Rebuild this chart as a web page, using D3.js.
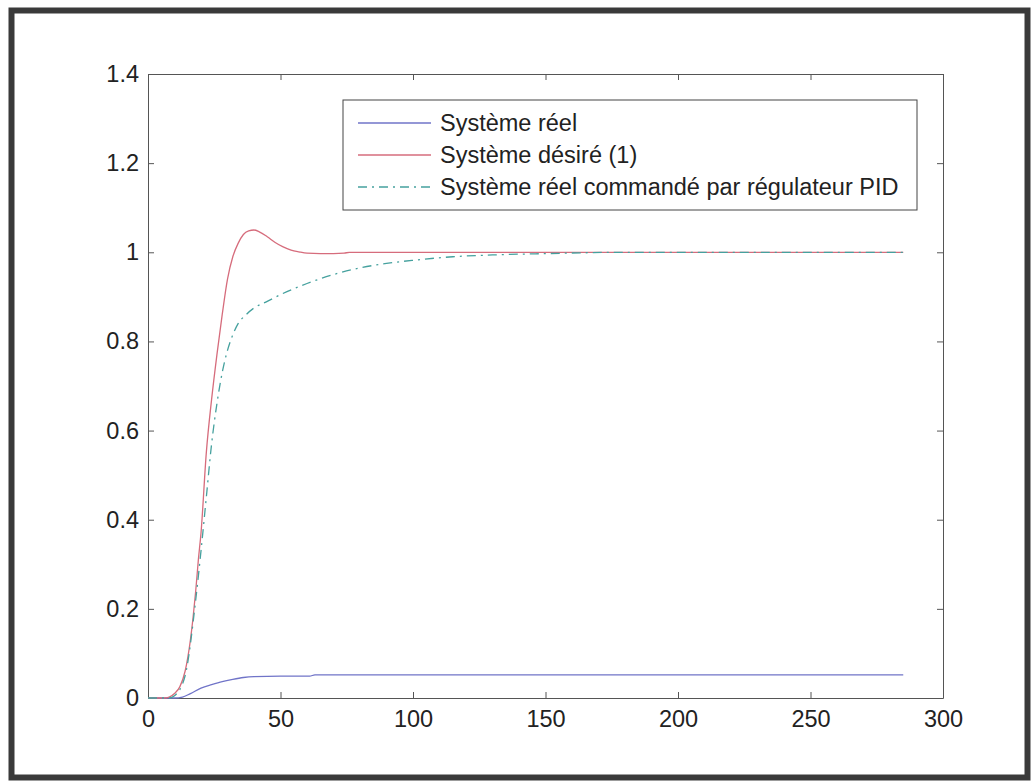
<!DOCTYPE html>
<html>
<head>
<meta charset="utf-8">
<script src="https://cdn.jsdelivr.net/npm/d3@7"></script>
<style>
  html, body { margin: 0; padding: 0; background: #fff; }
  svg { display: block; font-family: "Liberation Sans", Arial, sans-serif; }
  .axis path, .axis line { stroke: #555; }
  .axis text { fill: #222; font-size: 23.5px; }
</style>
</head>
<body>
<svg id="chart" width="1035" height="784"></svg>
<script>
// Step responses (time, output).
const reelT = [0, 10, 13, 16, 20, 24, 28, 32, 36, 40, 50, 61, 63, 285];
const reelY = [0, 0, 0.002, 0.01, 0.022, 0.03, 0.037, 0.042, 0.046, 0.048, 0.049, 0.049, 0.052, 0.052];

const desireT = [0, 6, 8, 10, 12, 14, 16, 17, 18, 19, 20, 22, 24, 26, 28, 30, 32, 34, 36, 38, 40, 42, 45, 48, 51, 54, 57, 60, 65, 70, 74, 76, 100, 285];
const desireY = [0, 0, 0.002, 0.01, 0.025, 0.06, 0.13, 0.18, 0.24, 0.31, 0.37, 0.55, 0.67, 0.77, 0.86, 0.94, 0.99, 1.02, 1.04, 1.048, 1.05, 1.046, 1.035, 1.022, 1.012, 1.005, 1.001, 0.998, 0.997, 0.997, 0.998, 1.0, 1.0, 1.0];

const pidT = [0, 8, 10, 14, 18, 20, 22, 24, 26, 28, 30, 32, 34, 37, 40, 45, 50, 60, 70, 80, 90, 100, 115, 130, 150, 180, 285];
const pidY = [0, 0, 0.005, 0.05, 0.22, 0.33, 0.45, 0.57, 0.66, 0.73, 0.78, 0.815, 0.84, 0.86, 0.875, 0.89, 0.905, 0.93, 0.95, 0.965, 0.975, 0.982, 0.99, 0.994, 0.997, 1.0, 1.0];

const xTicks = [0, 50, 100, 150, 200, 250, 300];
const yTicks = [0, 0.2, 0.4, 0.6, 0.8, 1, 1.2, 1.4];

const series = [
  { name: 'Système réel', t: reelT, y: reelY, color: '#7074c8', dash: null },
  { name: 'Système désiré (1)', t: desireT, y: desireY, color: '#d66c7c', dash: null },
  { name: 'Système réel commandé par régulateur PID', t: pidT, y: pidY, color: '#45a19e', dash: '9,5,2,5' }
];

const svg = d3.select('#chart');
const W = 1035, H = 784;

// Scanned page frame
svg.append('rect').attr('x', 11.5).attr('y', 10.5).attr('width', W - 19).attr('height', H - 17)
  .attr('fill', '#fff').attr('stroke', '#3a3a3a').attr('stroke-width', 6);

const plotL = 148, plotR = 943, plotT = 74, plotB = 698;
const x = d3.scaleLinear().domain([0, 300]).range([plotL, plotR]);
const y = d3.scaleLinear().domain([0, 1.4]).range([plotB, plotT]);

// Box axes with inward ticks, labels only on bottom and left
svg.append('g').attr('class', 'axis').attr('transform', `translate(0,${plotB})`)
  .call(d3.axisBottom(x).tickValues(xTicks).tickSizeInner(-6).tickSizeOuter(0).tickPadding(12).tickFormat(d3.format('d')));
svg.append('g').attr('class', 'axis').attr('transform', `translate(0,${plotT})`)
  .call(d3.axisTop(x).tickValues(xTicks).tickSizeInner(-6).tickSizeOuter(0).tickFormat(''));
svg.append('g').attr('class', 'axis').attr('transform', `translate(${plotL},0)`)
  .call(d3.axisLeft(y).tickValues(yTicks).tickSizeInner(-6).tickSizeOuter(0).tickPadding(9).tickFormat(d => d3.format('~g')(d)));
svg.append('g').attr('class', 'axis').attr('transform', `translate(${plotR},0)`)
  .call(d3.axisRight(y).tickValues(yTicks).tickSizeInner(-6).tickSizeOuter(0).tickFormat(''));

// Curves
const line = d3.line().x(d => x(d[0])).y(d => y(d[1])).curve(d3.curveMonotoneX);
series.forEach(s => {
  svg.append('path').datum(s.t.map((t, i) => [t, s.y[i]]))
    .attr('fill', 'none').attr('stroke', s.color).attr('stroke-width', 1.3)
    .attr('stroke-dasharray', s.dash).attr('d', line);
});

// Legend
const lg = svg.append('g').attr('transform', 'translate(343,100)');
lg.append('rect').attr('width', 574).attr('height', 110).attr('fill', '#fff').attr('stroke', '#444').attr('stroke-width', 1);
series.forEach((s, i) => {
  const row = lg.append('g').attr('transform', `translate(0,${23 + i * 32})`);
  row.append('line').attr('x1', 15).attr('x2', 88).attr('stroke', s.color).attr('stroke-width', 1.3).attr('stroke-dasharray', s.dash);
  row.append('text').attr('x', 97).attr('dy', '0.35em').attr('font-size', 23.5).attr('fill', '#222').text(s.name);
});
</script>
</body>
</html>
